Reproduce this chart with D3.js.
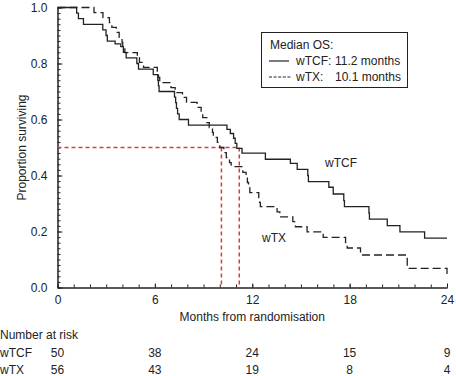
<!DOCTYPE html>
<html>
<head>
<meta charset="utf-8">
<script src="https://cdn.jsdelivr.net/npm/d3@7"></script>
<style>
  html, body { margin: 0; padding: 0; background: #fff; }
  svg { display: block; }
  text { font-family: "Liberation Sans", Arial, Helvetica, sans-serif; font-size: 12px; fill: #222; }
</style>
</head>
<body>
<svg id="chart" width="456" height="376"></svg>
<script>
// ---------- data ----------
const wtcfTimes = [0,1.18,1.29,1.6,2.79,2.99,3.07,3.55,3.9,4.06,4.23,4.89,4.99,5.9,6.18,6.22,6.26,7.21,7.28,7.33,7.4,7.5,8.07,10.44,10.65,10.85,10.95,11.05,11.37,12.81,14.35,14.77,15.42,15.46,16.72,16.99,17.64,17.68,19.19,19.22,20.32,21.1,22.62,24];
const wtcfSurv  = [1,0.98,0.96,0.94,0.92,0.90,0.88,0.87,0.86,0.84,0.82,0.80,0.78,0.76,0.74,0.72,0.70,0.68,0.66,0.64,0.62,0.60,0.58,0.565,0.55,0.533,0.515,0.497,0.48,0.458,0.443,0.422,0.40,0.378,0.358,0.334,0.31,0.289,0.266,0.244,0.221,0.199,0.176,0.176];

const wtxTimes = [0,2.25,2.8,3.2,3.35,3.62,3.8,3.98,4.02,4.15,4.92,5.05,5.3,6.15,6.22,6.3,6.99,7.25,7.7,7.95,8.6,8.85,8.95,9.2,9.35,9.55,9.6,9.85,10.0,10.25,10.4,10.6,10.7,11.42,11.62,11.7,11.77,11.85,12.4,12.45,12.5,13.53,13.7,14.5,14.66,15.38,16.37,17.75,17.85,18.67,21.55,24];
const wtxSurv  = [1,0.982,0.964,0.946,0.929,0.911,0.893,0.875,0.857,0.839,0.821,0.804,0.786,0.768,0.75,0.732,0.714,0.696,0.679,0.661,0.643,0.625,0.607,0.589,0.571,0.554,0.536,0.518,0.5,0.482,0.464,0.446,0.432,0.411,0.393,0.375,0.357,0.339,0.321,0.304,0.289,0.27,0.252,0.235,0.217,0.199,0.179,0.16,0.141,0.116,0.0685,0.045];

const medianWTCF = 11.2;
const medianWTX = 10.1;

const xMajorTicks = [0,6,12,18,24];
const yMajorTicks = [0,0.2,0.4,0.6,0.8,1.0];

const riskTimes = [0,6,12,18,24];
const riskGroups = ["wTCF","wTX"];
const riskWTCF = [50,38,24,15,9];
const riskWTX = [56,43,19,8,4];

const legendTitle = "Median OS:";
const legendNames = ["wTCF:","wTX:"];
const legendValues = ["11.2 months","10.1 months"];

// ---------- drawing ----------
const svg = d3.select("#chart");
svg.append("rect").attr("width",456).attr("height",376).attr("fill","#fff");

const x = d3.scaleLinear().domain([0,24]).range([57.5,447]);
const y = d3.scaleLinear().domain([0,1]).range([287.5,7.5]);
const ink = "#222";

// minor ticks
svg.append("g").attr("transform",`translate(0,${y(0)})`)
  .call(d3.axisBottom(x).tickValues(d3.range(0,25,1)).tickSizeInner(-3).tickSizeOuter(0).tickFormat(""));
svg.append("g").attr("transform",`translate(${x(0)},0)`)
  .call(d3.axisLeft(y).tickValues(d3.range(0,51).map(i=>i*0.02)).tickSizeInner(-3).tickSizeOuter(0).tickFormat(""));

// major ticks with labels
svg.append("g").attr("transform",`translate(0,${y(0)})`)
  .call(d3.axisBottom(x).tickValues(xMajorTicks).tickSizeInner(-4).tickSizeOuter(0).tickPadding(8).tickFormat(d3.format("d")));
svg.append("g").attr("transform",`translate(${x(0)},0)`)
  .call(d3.axisLeft(y).tickValues(yMajorTicks).tickSizeInner(-5).tickSizeOuter(0).tickPadding(10).tickFormat(d3.format(".1f")));

svg.selectAll(".domain, .tick line").attr("stroke",ink).attr("stroke-width",1);
svg.selectAll(".tick text").attr("fill",ink).style("font-family",'"Liberation Sans", Arial, sans-serif').style("font-size","12px");

// axis titles
svg.append("text").attr("x",(x(0)+x(24))/2).attr("y",321).attr("text-anchor","middle").text("Months from randomisation");
svg.append("text").attr("transform",`translate(26,${y(0.5)}) rotate(-90)`).attr("text-anchor","middle").text("Proportion surviving");

// median reference lines
const red = "#e03a3a";
svg.append("line").attr("x1",x(0)).attr("x2",x(medianWTCF)).attr("y1",y(0.5)).attr("y2",y(0.5))
  .attr("stroke",red).attr("stroke-width",1.5).attr("stroke-dasharray","4,3");
[medianWTX, medianWTCF].forEach(m => {
  svg.append("line").attr("x1",x(m)).attr("x2",x(m)).attr("y1",y(0.5)).attr("y2",y(0))
    .attr("stroke",red).attr("stroke-width",1.5).attr("stroke-dasharray","4,3");
});

// KM curves
const line = d3.line().x(d=>x(d[0])).y(d=>y(d[1])).curve(d3.curveStepAfter);
const wtcf = wtcfTimes.map((t,i)=>[t,wtcfSurv[i]]);
const wtx = wtxTimes.map((t,i)=>[t,wtxSurv[i]]);
svg.append("path").datum(wtcf).attr("d",line).attr("fill","none").attr("stroke",ink).attr("stroke-width",1.3);
svg.append("path").datum(wtx).attr("d",line).attr("fill","none").attr("stroke",ink).attr("stroke-width",1.3).attr("stroke-dasharray","8,4");

// curve labels
svg.append("text").attr("x",325).attr("y",167).text("wTCF");
svg.append("text").attr("x",262).attr("y",242).text("wTX");

// legend
const lg = svg.append("g");
lg.append("rect").attr("x",261.5).attr("y",32.5).attr("width",146).attr("height",55).attr("fill","#fff").attr("stroke",ink).attr("stroke-width",1);
lg.append("text").attr("x",270).attr("y",49).text(legendTitle);
lg.append("line").attr("x1",269).attr("x2",289).attr("y1",61).attr("y2",61).attr("stroke",ink).attr("stroke-width",1.2);
lg.append("line").attr("x1",269).attr("x2",292).attr("y1",77).attr("y2",77).attr("stroke",ink).attr("stroke-width",1.2).attr("stroke-dasharray","3,1.6");
legendNames.forEach((n,i)=>{
  lg.append("text").attr("x",296).attr("y",65+i*16).text(n);
  lg.append("text").attr("x",335).attr("y",65+i*16).text(legendValues[i]);
});

// number at risk
svg.append("text").attr("x",0).attr("y",339).text("Number at risk");
const riskRows = [riskWTCF, riskWTX];
riskGroups.forEach((g,r)=>{
  const yy = 357 + r*17;
  svg.append("text").attr("x",0).attr("y",yy).text(g);
  riskRows[r].forEach((v,i)=>{
    svg.append("text").attr("x",x(riskTimes[i])).attr("y",yy).attr("text-anchor","middle").text(v);
  });
});
</script>
</body>
</html>
